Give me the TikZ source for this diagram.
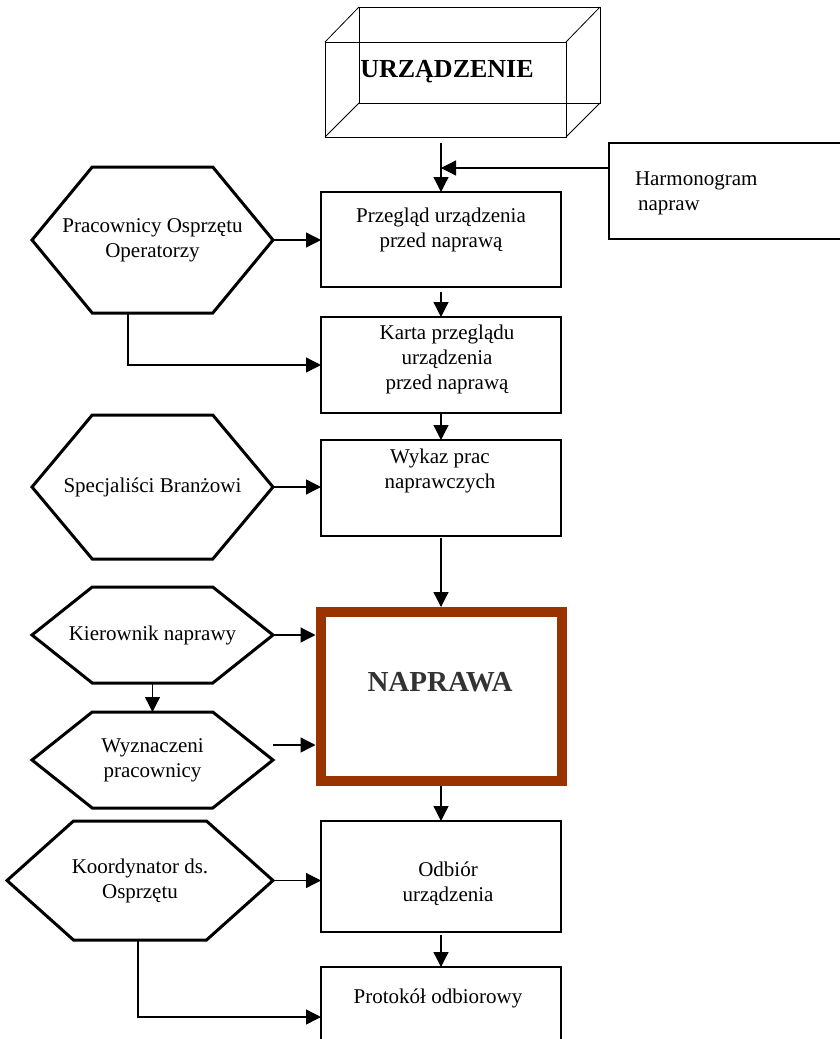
\documentclass[tikz,border=0pt]{standalone}
\usepackage{fontspec}
\setmainfont{Liberation Serif}
\usetikzlibrary{arrows.meta,calc}
\definecolor{naprawabrown}{RGB}{153,51,0}
\begin{document}
\begin{tikzpicture}[x=1pt,y=-1pt,
  every node/.style={font=\fontsize{21}{25}\selectfont, inner sep=0pt, outer sep=0pt},
  box/.style={draw, line width=1.6pt, minimum width=240pt},
  txt/.style={align=center},
  arr/.style={-{Triangle[length=15pt,width=15pt]}, line width=1.3pt},
  hexa/.style={align=center, append after command={\pgfextra{%
      \edef\hexn{\tikzlastnode}%
      \draw[line width=3pt, line join=miter]
        (\hexn.west)
        -- ($(\hexn.north west)!0.25!(\hexn.north east)$)
        -- ($(\hexn.north west)!0.75!(\hexn.north east)$)
        -- (\hexn.east)
        -- ($(\hexn.south west)!0.75!(\hexn.south east)$)
        -- ($(\hexn.south west)!0.25!(\hexn.south east)$)
        -- cycle;}}},
]
\path[use as bounding box, clip] (0,0) rectangle (840,1039);

% URZADZENIE (wireframe box)
\node[draw, line width=0.8pt, minimum width=241pt, minimum height=95pt] (urz) at (445.5,89.5) {};
\draw[line width=0.8pt] (359,7) rectangle (600,103);
\draw[line width=0.8pt] (urz.north west) -- (359,7);
\draw[line width=0.8pt] (urz.north east) -- (600,7);
\draw[line width=0.8pt] (urz.south east) -- (600,103);
\draw[line width=0.8pt] (urz.south west) -- (359,103);
\node[font=\bfseries\fontsize{26}{30}\selectfont] (urzt) at (447,72) {URZĄDZENIE};

% main column boxes
\node[box, minimum height=95pt] (przeglad) at (441,239.5) {};
\node[txt] (przegladt) at (441,230) {Przegląd urządzenia\\przed naprawą};
\node[box, minimum height=96pt] (karta) at (441,365) {};
\node[txt] (kartat) at (447,359) {Karta przeglądu\\urządzenia\\przed naprawą};
\node[box, minimum height=96pt] (wykaz) at (441,488) {};
\node[txt] (wykazt) at (440,471) {Wykaz prac\\naprawczych};
\node[draw=naprawabrown, line width=10pt, minimum width=241pt, minimum height=169pt, outer sep=5pt] (naprawa) at (441,696.5) {};
\node[font=\bfseries\fontsize{29}{34}\selectfont, text=black!80] (naprawat) at (440,682) {NAPRAWA};
\node[box, minimum height=111pt] (odbior) at (441,876.5) {};
\node[txt] (odbiort) at (448,884) {Odbiór\\urządzenia};
\node[box, minimum height=100pt] (protokol) at (441,1017) {};
\node[txt] (protokolt) at (438,998) {Protokół odbiorowy};

% Harmonogram
\node[box, minimum width=251pt, minimum height=96pt] (harm) at (734.5,191) {};
\node[align=left, anchor=west] (harmt) at (635,193) {Harmonogram\\\hspace*{3pt}napraw};

% hexagons
\node[hexa, minimum width=241pt, minimum height=146pt] (prac) at (152.5,240) {Pracownicy Osprzętu\\Operatorzy};
\node[hexa, minimum width=241pt, minimum height=144pt] (spec) at (152.5,487) {Specjaliści Branżowi};
\node[hexa, minimum width=241pt, minimum height=96pt] (kier) at (152.5,635) {Kierownik naprawy};
\node[hexa, minimum width=241pt, minimum height=96pt] (wyz) at (152.5,760) {Wyznaczeni\\pracownicy};
\node[hexa, minimum width=266pt, minimum height=119pt] (koord) at (140,880.5) {Koordynator ds.\\Osprzętu};

% connectors
\coordinate (c1) at (441,143);
\coordinate (c2) at (441,168);
\coordinate (wzc) at (273,745);
\draw[arr] (c1) -- (c1 |- przeglad.north);
\draw[arr] (harm.west |- c2) -- (c2);
\draw[arr, shorten <=5pt] (przeglad.south) -- (karta.north);
\draw[arr] (karta.south) -- (wykaz.north);
\draw[arr, shorten <=2pt] (wykaz.south) -- (naprawa.north);
\draw[arr] (naprawa.south) -- (odbior.north);
\draw[arr, shorten <=3pt] (odbior.south) -- (odbior.south |- protokol.north);
\draw[arr] (prac.east) -- (prac.east -| przeglad.west);
\draw[arr] ([xshift=-24.5pt]prac.south) |- (karta.west);
\draw[arr] (spec.east) -- (spec.east -| wykaz.west);
\draw[arr] (kier.east) -- (kier.east -| naprawa.west);
\draw[arr] (kier.south) -- (wyz.north);
\draw[arr] (wzc) -- (wzc -| naprawa.west);
\draw[arr] (koord.east) -- (koord.east -| odbior.west);
\draw[arr] ([xshift=-2pt]koord.south) |- (protokol.west);
\end{tikzpicture}
\end{document}
